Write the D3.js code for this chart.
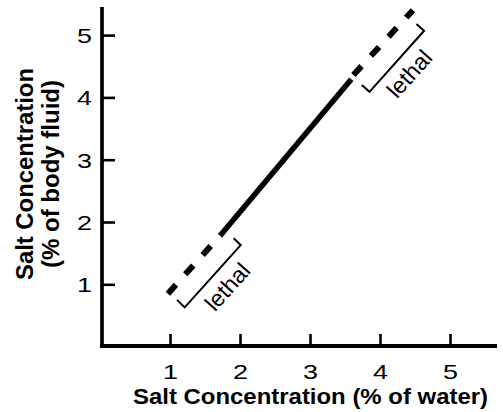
<!DOCTYPE html>
<html>
<head>
<meta charset="utf-8">
<script src="https://cdn.jsdelivr.net/npm/d3@7"></script>
<style>
  html, body { margin: 0; padding: 0; background: #fff; }
  svg { display: block; font-family: "Liberation Sans", Arial, Helvetica, sans-serif; }
</style>
</head>
<body>
<svg id="chart" width="503" height="412"></svg>
<script>
// ---- data ----
const xTickValues = [1, 2, 3, 4, 5];
const yTickValues = [1, 2, 3, 4, 5];
const xTitle = "Salt Concentration (% of water)";
const yTitleLines = ["Salt Concentration", "(% of body fluid)"];
// tolerance line segments (x = % of water, y = % of body fluid)
const lowerLethalLine = [{x: 0.97, y: 0.85}, {x: 1.73, y: 1.80}];
const toleratedLine   = [{x: 1.73, y: 1.80}, {x: 3.59, y: 4.29}];
const upperLethalLine = [{x: 3.62, y: 4.36}, {x: 4.47, y: 5.40}];
// lethal brackets (tick, corner, corner, tick)
const lowerBracket = [{x: 1.10, y: 0.75}, {x: 1.21, y: 0.63}, {x: 2.01, y: 1.63}, {x: 1.91, y: 1.74}];
const upperBracket = [{x: 3.74, y: 4.20}, {x: 3.85, y: 4.09}, {x: 4.63, y: 5.07}, {x: 4.52, y: 5.18}];
const bracketLabels = [
  {text: "lethal", x: 1.82, y: 0.96},
  {text: "lethal", x: 4.42, y: 4.38}
];

// ---- scales ----
const svg = d3.select("#chart");
const x = d3.scaleLinear().domain([0, 5.7]).range([100, 499]);
const y = d3.scaleLinear().domain([0, 5.5]).range([346.6, 3.95]);

const axisX0 = 102;   // vertical axis line position
const axisY0 = 346;   // horizontal axis line position

// axis lines
svg.append("line").attr("x1", axisX0).attr("x2", axisX0).attr("y1", 7).attr("y2", axisY0 + 2)
  .attr("stroke", "#000").attr("stroke-width", 3.7);
svg.append("line").attr("x1", axisX0 - 1.8).attr("x2", 497).attr("y1", axisY0).attr("y2", axisY0)
  .attr("stroke", "#000").attr("stroke-width", 4);

// x axis ticks
const xAxis = d3.axisBottom(x).tickValues(xTickValues).tickSize(-12).tickPadding(0).tickFormat(d3.format("d"));
const gx = svg.append("g").attr("transform", `translate(0,${axisY0})`).call(xAxis);
gx.attr("font-size", null).attr("font-family", null);
gx.select(".domain").remove();
gx.selectAll(".tick line").attr("stroke", "#000").attr("stroke-width", 2.6);
gx.selectAll(".tick text").attr("fill", "#000")
  .style("font-size", "21px")
  .attr("dy", null).attr("y", 33)
  .attr("textLength", 15).attr("lengthAdjust", "spacingAndGlyphs");

// y axis ticks
const yAxis = d3.axisLeft(y).tickValues(yTickValues).tickSize(-13).tickPadding(0).tickFormat(d3.format("d"));
const gy = svg.append("g").attr("transform", `translate(${axisX0},0)`).call(yAxis);
gy.attr("font-size", null).attr("font-family", null);
gy.select(".domain").remove();
gy.selectAll(".tick line").attr("stroke", "#000").attr("stroke-width", 2.6);
gy.selectAll(".tick text").attr("fill", "#000")
  .style("font-size", "21px")
  .attr("x", -10).attr("dy", "0.36em")
  .attr("textLength", 15).attr("lengthAdjust", "spacingAndGlyphs");

// titles
svg.append("text").attr("x", 310.5).attr("y", 404).attr("text-anchor", "middle")
  .style("font-size", "22.5px").attr("font-weight", "bold")
  .attr("textLength", 355).attr("lengthAdjust", "spacingAndGlyphs").text(xTitle);
const yTitleX = [33.3, 58.5];
const yTitleLen = [212, 188];
yTitleLines.forEach((t, i) => {
  svg.append("text")
    .attr("transform", `translate(${yTitleX[i]},174) rotate(-90)`)
    .attr("text-anchor", "middle").style("font-size", "23.5px").attr("font-weight", "bold")
    .attr("textLength", yTitleLen[i]).attr("lengthAdjust", "spacingAndGlyphs").text(t);
});

// lines
const line = d3.line().x(d => x(d.x)).y(d => y(d.y));
svg.append("path").datum(toleratedLine).attr("d", line)
  .attr("fill", "none").attr("stroke", "#000").attr("stroke-width", 5.5);
[lowerLethalLine, upperLethalLine].forEach(seg => {
  svg.append("path").datum(seg).attr("d", line)
    .attr("fill", "none").attr("stroke", "#000").attr("stroke-width", 6)
    .attr("stroke-dasharray", "12,14");
});

// brackets
[lowerBracket, upperBracket].forEach(b => {
  svg.append("path").datum(b).attr("d", line)
    .attr("fill", "none").attr("stroke", "#000").attr("stroke-width", 2).attr("stroke-linejoin", "miter");
});

// labels
bracketLabels.forEach(l => {
  svg.append("text")
    .attr("transform", `translate(${x(l.x)},${y(l.y)}) rotate(-48)`)
    .attr("text-anchor", "middle").attr("dominant-baseline", "central")
    .style("font-size", "23px").text(l.text);
});
</script>
</body>
</html>
